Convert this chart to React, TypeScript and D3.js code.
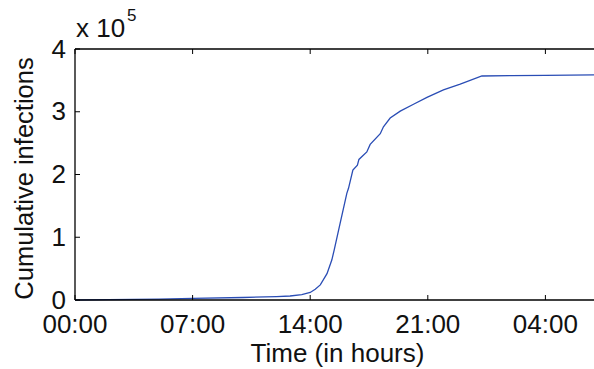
import React from "react";
import * as d3 from "d3";

const hours: number[] = [0, 2, 5, 7, 10, 12, 12.8, 13.5, 14.0, 14.3, 14.6, 15.0, 15.29, 15.43, 15.78, 16.18, 16.28, 16.54, 16.81, 16.9, 17.37, 17.57, 18.17, 18.36, 18.76, 19.36, 20.15, 20.95, 21.93, 22.93, 24.22, 26, 28, 31.25];
const infections: number[] = [0, 0.005, 0.015, 0.025, 0.04, 0.055, 0.064, 0.085, 0.12, 0.17, 0.24, 0.42, 0.64, 0.8, 1.22, 1.7, 1.78, 2.07, 2.15, 2.24, 2.36, 2.48, 2.65, 2.76, 2.9, 3.01, 3.12, 3.23, 3.35, 3.44, 3.57, 3.575, 3.58, 3.59];
const xTicks: number[] = [0, 7, 14, 21, 28];
const xTickLabels: string[] = ["00:00", "07:00", "14:00", "21:00", "04:00"];
const yTicks: number[] = [0, 1, 2, 3, 4];

const W = 594, H = 369;
const L = 75, R = 600, T = 49, B = 300;
const FONT = "'Liberation Sans', Arial, Helvetica, sans-serif";

export default function App() {
  const x = d3.scaleLinear().domain([0, 31.25]).range([L, R]);
  const y = d3.scaleLinear().domain([0, 4]).range([B, T]);
  const line = d3.line<number>().x((_, i) => x(hours[i])).y((d) => y(d));
  const tl = 5;
  return (
    <svg width={W} height={H} style={{ position: "fixed", left: 0, top: 0, background: "#fff" }} fontFamily={FONT}>
      <rect x={0} y={0} width={W} height={H} fill="#fff" />
      <path d={line(infections) || ""} fill="none" stroke="#2a4db5" strokeWidth={1.3} />
      <line x1={L} x2={R} y1={B} y2={B} stroke="#000" strokeWidth={1.3} />
      <line x1={L} x2={R} y1={T} y2={T} stroke="#000" strokeWidth={1.3} />
      <line x1={L} x2={L} y1={T} y2={B} stroke="#000" strokeWidth={1.3} />
      {xTicks.map((t, i) => (
        <g key={"x" + i}>
          <line x1={x(t)} x2={x(t)} y1={B} y2={B - tl} stroke="#000" strokeWidth={1} />
          <line x1={x(t)} x2={x(t)} y1={T} y2={T + tl} stroke="#000" strokeWidth={1} />
          <text x={x(t)} y={332.5} textAnchor="middle" fontSize={26} fill="#111">{xTickLabels[i]}</text>
        </g>
      ))}
      {yTicks.map((t, i) => (
        <g key={"y" + i}>
          <line x1={L} x2={L + tl} y1={y(t)} y2={y(t)} stroke="#000" strokeWidth={1} />
          <text x={66} y={y(t) + 8.5} textAnchor="end" fontSize={26} fill="#111">{t}</text>
        </g>
      ))}
      <text x={(L + R) / 2} y={362} textAnchor="middle" fontSize={26} fill="#111">Time (in hours)</text>
      <text transform={`translate(33,${(T + B) / 2 + 4}) rotate(-90)`} textAnchor="middle" fontSize={25.5} fill="#111">Cumulative infections</text>
      <text x={76} y={37} fontSize={26} fill="#111">x 10</text>
      <text x={127} y={21} fontSize={17} fill="#111">5</text>
    </svg>
  );
}
